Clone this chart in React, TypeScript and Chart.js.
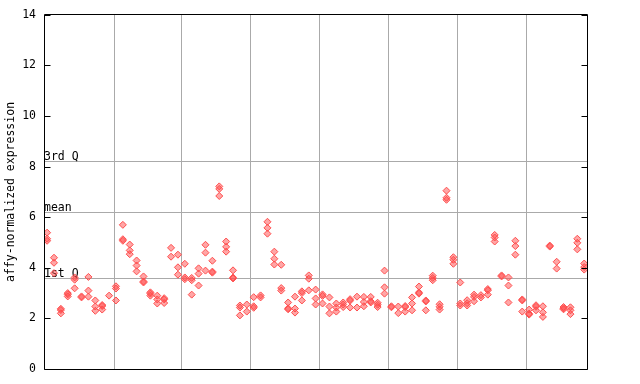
import React, { useEffect, useRef } from 'react';
import { Chart, registerables } from 'chart.js';

Chart.register(...registerables);

// Expression values per sample (replicates stacked per column), grouped as in the reference
const group1: number[][] = [
  [5.39, 5.15, 5.07], [4.40, 4.20, 3.79], [2.38, 2.33, 2.20], [3.00, 2.95, 2.87], [3.62, 3.53, 3.19],
  [2.87, 2.83], [3.64, 3.10, 2.86], [2.71, 2.47, 2.30], [2.53, 2.49, 2.35], [2.90],
];
const group2: number[][] = [
  [3.27, 3.18, 2.71], [5.70, 5.13, 5.07], [4.92, 4.69, 4.54], [4.29, 4.09, 3.86], [3.66, 3.46, 3.42],
  [3.03, 2.98, 2.90], [2.90, 2.75, 2.59], [2.80, 2.75, 2.61], [4.79, 4.44], [4.52, 4.02, 3.73],
];
const group3: number[][] = [
  [4.16, 3.62, 3.55], [3.60, 3.51, 2.94], [3.98, 3.77, 3.30], [4.91, 4.60, 3.89], [4.28, 3.85, 3.81],
  [7.22, 7.12, 6.84], [5.04, 4.83, 4.64], [3.90, 3.62, 3.58], [2.51, 2.43, 2.12], [2.55, 2.27],
];
const group4: number[][] = [
  [2.84, 2.48, 2.42], [2.91, 2.83], [5.82, 5.58, 5.35], [4.64, 4.36, 4.13], [4.12, 3.20, 3.10],
  [2.63, 2.40, 2.36], [2.86, 2.39, 2.23], [3.07, 3.00, 2.71], [3.70, 3.57, 3.11], [3.14, 2.79, 2.55],
];
const group5: number[][] = [
  [2.95, 2.89, 2.59], [2.83, 2.47, 2.20], [2.59, 2.43, 2.27], [2.63, 2.55, 2.45], [2.76, 2.70, 2.43],
  [2.86, 2.43], [2.85, 2.65, 2.48], [2.85, 2.68, 2.63], [2.62, 2.54, 2.45], [3.89, 3.23, 2.98],
];
const group6: number[][] = [
  [2.48, 2.44], [2.47, 2.21], [2.49, 2.45, 2.27], [2.83, 2.59, 2.32], [3.26, 3.03, 2.98],
  [2.71, 2.67, 2.32], [3.69, 3.60, 3.51], [2.56, 2.46, 2.35], [7.05, 6.77, 6.69], [4.42, 4.32, 4.16],
];
const group7: number[][] = [
  [3.42, 2.59, 2.51], [2.72, 2.60, 2.51], [2.94, 2.85, 2.68], [2.92, 2.83], [3.16, 3.11, 2.94],
  [5.30, 5.20, 5.04], [3.70, 3.66], [3.62, 3.30, 2.63], [5.07, 4.86, 4.52], [2.75, 2.71, 2.27],
];
const group8: number[][] = [
  [2.35, 2.19, 2.15], [2.52, 2.46, 2.32], [2.48, 2.24, 2.06], [4.88, 4.84], [4.24, 3.97],
  [2.45, 2.40, 2.36], [2.44, 2.32, 2.17], [5.15, 4.99, 4.73], [4.17, 4.03, 3.93],
];

const groups = [group1, group2, group3, group4, group5, group6, group7, group8];
const groupBreaks = [9.65, 19.5, 29.5, 39.5, 49.5, 59.5, 69.5];
const yTicks = [0, 2, 4, 6, 8, 10, 12, 14];
const refLabels = ['3rd Q', 'mean', '1st Q'];
const refValues = [8.22, 6.21, 3.61];
const yTitle = 'affy-normalized expression';

const FONT = '"DejaVu Sans Mono", "Liberation Mono", monospace';

export default function App() {
  const ref = useRef<HTMLCanvasElement | null>(null);

  useEffect(() => {
    document.body.style.margin = '0';
    const canvas = ref.current;
    if (!canvas) return;

    const points: { x: number; y: number }[] = [];
    let col = 0;
    groups.forEach((g) => {
      g.forEach((reps) => {
        reps.forEach((v) => points.push({ x: col, y: v }));
        col++;
      });
    });

    const decor = {
      id: 'decor',
      beforeDatasetsDraw(chart: any) {
        const { ctx, chartArea, scales } = chart;
        const { left, right, top, bottom } = chartArea;
        const x = scales.x;
        const y = scales.y;
        ctx.save();
        ctx.strokeStyle = '#aaaaaa';
        ctx.lineWidth = 1;
        groupBreaks.forEach((b) => {
          const px = Math.round(x.getPixelForValue(b)) + 0.5;
          ctx.beginPath();
          ctx.moveTo(px, top);
          ctx.lineTo(px, bottom);
          ctx.stroke();
        });
        refValues.forEach((v) => {
          const py = Math.round(y.getPixelForValue(v)) + 0.5;
          ctx.beginPath();
          ctx.moveTo(left, py);
          ctx.lineTo(right, py);
          ctx.stroke();
        });
        ctx.fillStyle = '#000';
        ctx.font = '11.5px ' + FONT;
        ctx.textAlign = 'left';
        ctx.textBaseline = 'alphabetic';
        refLabels.forEach((t, i) => {
          ctx.fillText(t, left, Math.round(y.getPixelForValue(refValues[i])) - 1);
        });
        ctx.restore();
      },
      afterDatasetsDraw(chart: any) {
        const { ctx, chartArea, scales } = chart;
        const { left, right, top, bottom } = chartArea;
        const y = scales.y;
        ctx.save();
        ctx.strokeStyle = '#000';
        ctx.lineWidth = 1;
        const l = Math.round(left) + 0.5;
        const r = Math.round(right) - 0.5;
        const t = Math.round(top) - 0.5;
        const b = Math.round(bottom) + 0.5;
        ctx.beginPath();
        ctx.moveTo(l, t);
        ctx.lineTo(r, t);
        ctx.lineTo(r, b);
        ctx.lineTo(l, b);
        ctx.closePath();
        ctx.stroke();
        yTicks.forEach((v) => {
          const py = Math.round(y.getPixelForValue(v)) + 0.5;
          ctx.beginPath();
          ctx.moveTo(l, py);
          ctx.lineTo(l + 6, py);
          ctx.moveTo(r - 6, py);
          ctx.lineTo(r, py);
          ctx.stroke();
        });
        ctx.restore();
      },
    };

    const chart = new Chart(canvas, {
      type: 'scatter',
      data: {
        datasets: [
          {
            data: points,
            pointStyle: 'rectRot',
            pointRadius: 3.5,
            pointBorderWidth: 1,
            pointBorderColor: '#ff4d4d',
            pointBackgroundColor: 'rgba(255,77,77,0.5)',
            showLine: false,
          } as any,
        ],
      },
      options: {
        animation: false,
        responsive: false,
        events: [],
        layout: { padding: { left: 0, right: 52, top: 14, bottom: 15 } },
        plugins: { legend: { display: false }, tooltip: { enabled: false } },
        scales: {
          x: { type: 'linear', min: -0.45, max: 78.55, display: false },
          y: {
            min: 0,
            max: 14,
            afterBuildTicks: (scale: any) => {
              scale.ticks = yTicks.map((v) => ({ value: v }));
            },
            ticks: { padding: 8, color: '#000', font: { family: FONT, size: 11.5 } },
            grid: { display: false, drawTicks: false },
            border: { display: false },
            title: {
              display: true,
              text: yTitle,
              color: '#000',
              font: { family: FONT, size: 11.5 },
              padding: { top: 4, bottom: 0 },
            },
            afterFit: (scale: any) => {
              scale.width = 44;
            },
          },
        },
      } as any,
      plugins: [decor],
    });

    return () => chart.destroy();
  }, []);

  return (
    <div style={{ position: 'fixed', left: 0, top: 0, width: 640, height: 384, background: '#fff' }}>
      <canvas ref={ref} width={640} height={384} style={{ width: 640, height: 384 }} />
    </div>
  );
}
